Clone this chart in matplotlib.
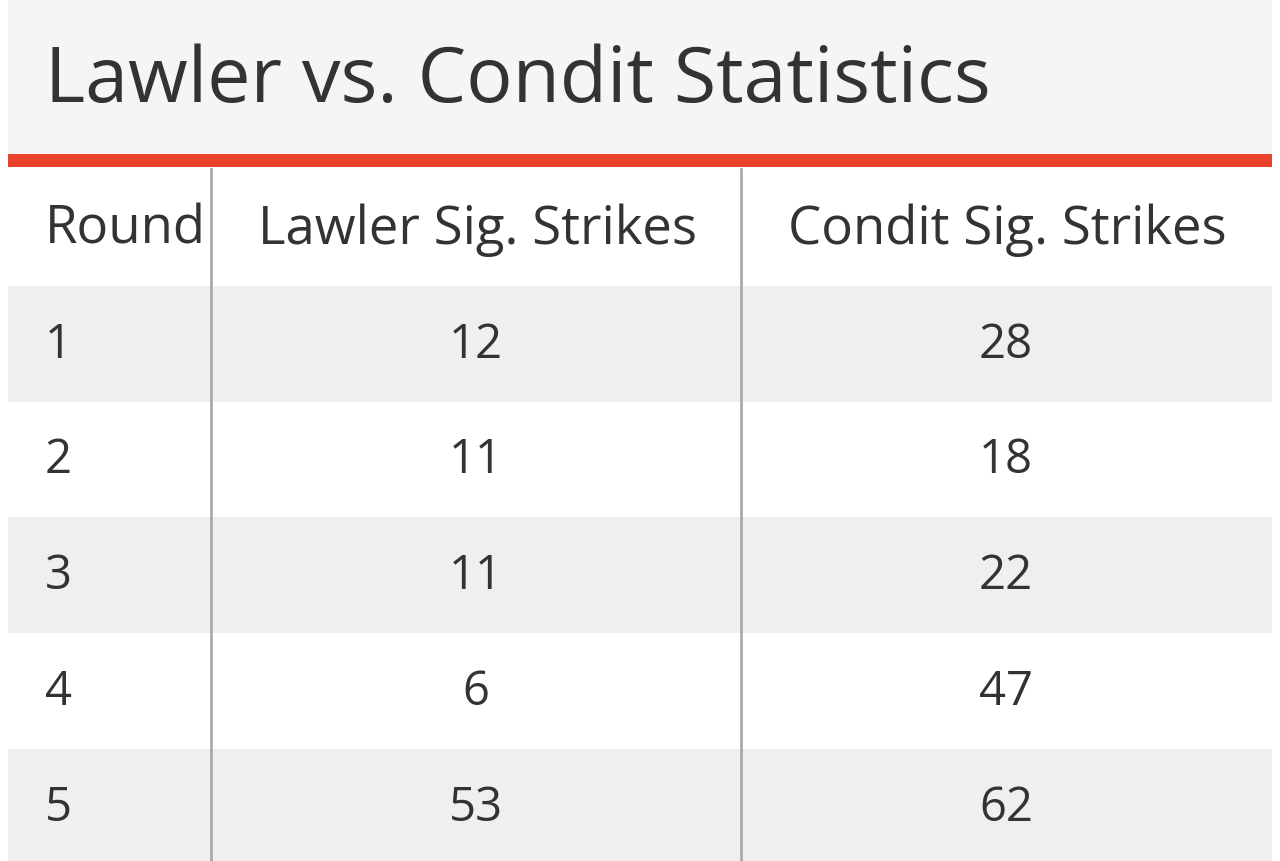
import matplotlib
matplotlib.use("Agg")
import matplotlib.pyplot as plt
from matplotlib.patches import Rectangle

title = "Lawler vs. Condit Statistics"
columns = ["Round", "Lawler Sig. Strikes", "Condit Sig. Strikes"]
rounds = ["1", "2", "3", "4", "5"]
lawler = ["12", "11", "11", "6", "53"]
condit = ["28", "18", "22", "47", "62"]

plt.rcParams['font.family'] = ['Open Sans', 'DejaVu Sans']
fig = plt.figure(figsize=(12.8, 8.62), dpi=100)
ax = fig.add_axes([0, 0, 1, 1])
ax.set_xlim(0, 1280); ax.set_ylim(862, 0); ax.axis('off')

L, R = 8, 1272
ax.add_patch(Rectangle((L, 0), R - L, 155, color='#f5f5f5', lw=0))
ax.add_patch(Rectangle((L, 155), R - L, 13, color='#e8412c', lw=0))
ax.text(45, 82, title, fontsize=55.5, color='#333333', va='center', ha='left')

row_top = [287, 402, 518, 634, 750]
row_h = 116
for i, y in enumerate(row_top):
    if i % 2 == 0:
        ax.add_patch(Rectangle((L, y), R - L, row_h, color='#efefef', lw=0))
for x in (211, 741):
    ax.plot([x, x], [170, 862], color='#aaaaaa', lw=2)

hy = 230
ax.text(45, hy, columns[0], fontsize=38, color='#333333', va='center', ha='left')
ax.text(478, hy, columns[1], fontsize=38, color='#333333', va='center', ha='center')
ax.text(1007, hy, columns[2], fontsize=38, color='#333333', va='center', ha='center')
for i, y in enumerate(row_top):
    cy = y + 58
    ax.text(45, cy, rounds[i], fontsize=34, color='#333333', va='center', ha='left')
    ax.text(476, cy, lawler[i], fontsize=34, color='#333333', va='center', ha='center')
    ax.text(1006, cy, condit[i], fontsize=34, color='#333333', va='center', ha='center')

fig.savefig("out.png", dpi=100)
